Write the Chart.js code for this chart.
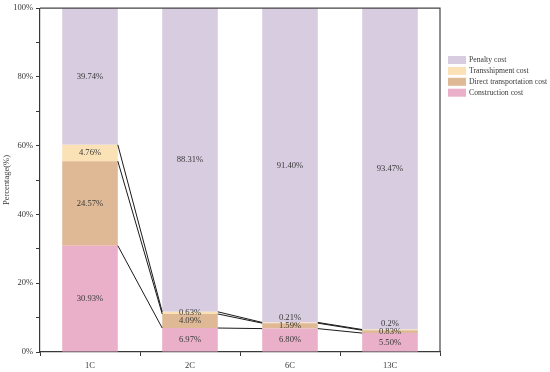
<!DOCTYPE html>
<html>
<head>
<meta charset="utf-8">
<script src="https://cdn.jsdelivr.net/npm/chart.js@4"></script>
<style>
  html, body { margin: 0; padding: 0; background: #fff; }
  #wrap { width: 550px; height: 372px; }
</style>
</head>
<body>
<div id="wrap"><canvas id="chart" width="550" height="372"></canvas></div>
<script>
// ─── Data ─────────────────────────────────────────────────────────────────────

const categories = ["1C", "2C", "6C", "13C"];

// kept as text so the labels show the same digits as the figure
const constructionCost = ["30.93", "6.97", "6.80", "5.50"];
const directCost       = ["24.57", "4.09", "1.59", "0.83"];
const transshipCost    = ["4.76", "0.63", "0.21", "0.2"];
const penaltyCost      = ["39.74", "88.31", "91.40", "93.47"];

const yTicks = [0, 20, 40, 60, 80, 100];

// ─── Look ─────────────────────────────────────────────────────────────────────

const SERIF = "'Liberation Serif', 'DejaVu Serif', serif";
const INK = "#383838";

const COLORS = {
  construction: "#eab0c9",
  direct: "#dfb995",
  transship: "#fbe2b6",
  penalty: "#d8cce0",
};

// ─── Plugins ──────────────────────────────────────────────────────────────────

// segment labels, pushed up a little when two small segments crowd each other
const segmentLabels = {
  id: "segmentLabels",
  afterDatasetsDraw(chart) {
    const ctx = chart.ctx;
    ctx.save();
    ctx.font = "8.6px " + SERIF;
    ctx.fillStyle = INK;
    ctx.textAlign = "center";
    ctx.textBaseline = "middle";
    categories.forEach((c, i) => {
      let lastY = Infinity;
      chart.data.datasets.forEach((ds, d) => {
        const bar = chart.getDatasetMeta(d).data[i];
        let y = (bar.y + bar.base) / 2;
        if (y > lastY - 8) y = lastY - 8;
        lastY = y;
        ctx.fillText(ds.data[i] + "%", bar.x, y);
      });
    });
    ctx.restore();
  },
};

// lines joining the stack boundaries of neighbouring bars
const connectors = {
  id: "connectors",
  afterDatasetsDraw(chart) {
    const ctx = chart.ctx;
    const y = chart.scales.y;
    const sets = chart.data.datasets;
    ctx.save();
    ctx.strokeStyle = "#1a1a1a";
    ctx.lineWidth = 1;
    for (let i = 0; i < categories.length - 1; i++) {
      const a = chart.getDatasetMeta(0).data[i];
      const b = chart.getDatasetMeta(0).data[i + 1];
      let sumA = 0, sumB = 0;
      for (let d = 0; d < sets.length - 1; d++) {
        sumA += +sets[d].data[i];
        sumB += +sets[d].data[i + 1];
        ctx.beginPath();
        ctx.moveTo(a.x + a.width / 2, y.getPixelForValue(sumA));
        ctx.lineTo(b.x - b.width / 2, y.getPixelForValue(sumB));
        ctx.stroke();
      }
    }
    ctx.restore();
  },
};

// top and right frame lines + legend on the right
const frameAndLegend = {
  id: "frameAndLegend",
  afterDraw(chart) {
    const ctx = chart.ctx;
    const a = chart.chartArea;
    ctx.save();
    ctx.strokeStyle = "#444";
    ctx.lineWidth = 1.2;
    ctx.beginPath();
    ctx.moveTo(a.left, a.top);
    ctx.lineTo(a.right, a.top);
    ctx.lineTo(a.right, a.bottom);
    ctx.stroke();

    ctx.font = "7.7px " + SERIF;
    ctx.textBaseline = "middle";
    ctx.textAlign = "left";
    const items = chart.data.datasets.slice().reverse();
    items.forEach((ds, k) => {
      const top = 56 + k * 10.9;
      ctx.fillStyle = ds.backgroundColor;
      ctx.fillRect(448, top, 18, 8);
      ctx.fillStyle = INK;
      ctx.fillText(ds.label, 469, top + 4);
    });
    ctx.restore();
  },
};

// ─── Chart ────────────────────────────────────────────────────────────────────

const barStyle = { barPercentage: 0.556, categoryPercentage: 1, borderWidth: 0 };

new Chart(document.getElementById("chart"), {
  type: "bar",
  data: {
    labels: categories,
    datasets: [
      { label: "Construction cost", data: constructionCost, backgroundColor: COLORS.construction, ...barStyle },
      { label: "Direct transportation cost", data: directCost, backgroundColor: COLORS.direct, ...barStyle },
      { label: "Transshipment cost", data: transshipCost, backgroundColor: COLORS.transship, ...barStyle },
      { label: "Penalty cost", data: penaltyCost, backgroundColor: COLORS.penalty, ...barStyle },
    ],
  },
  options: {
    responsive: false,
    animation: false,
    layout: { padding: { top: 6, right: 110, left: 0, bottom: 0 } },
    plugins: {
      legend: { display: false },
      tooltip: { enabled: false },
    },
    scales: {
      x: {
        stacked: true,
        grid: { offset: true, drawOnChartArea: false, tickLength: 4, color: INK, lineWidth: 1 },
        border: { color: INK, width: 1.2 },
        ticks: { font: { family: SERIF, size: 8.5 }, color: INK, padding: 5 },
        afterFit(scale) { scale.height = 20; },
      },
      y: {
        stacked: true,
        min: 0,
        max: 100,
        grid: { drawOnChartArea: false, tickLength: 4, color: INK, lineWidth: 1 },
        border: { color: INK, width: 1.2 },
        ticks: {
          stepSize: 10,
          font: { family: SERIF, size: 8.5 },
          color: INK,
          padding: 3,
          callback: (v) => (yTicks.includes(v) ? v + "%" : ""),
        },
        title: {
          display: true,
          text: "Percentage(%)",
          font: { family: SERIF, size: 8.5 },
          color: INK,
          padding: { top: 2, bottom: 0 },
        },
        afterFit(scale) { scale.width = 40; },
      },
    },
  },
  plugins: [segmentLabels, connectors, frameAndLegend],
});
</script>
</body>
</html>
